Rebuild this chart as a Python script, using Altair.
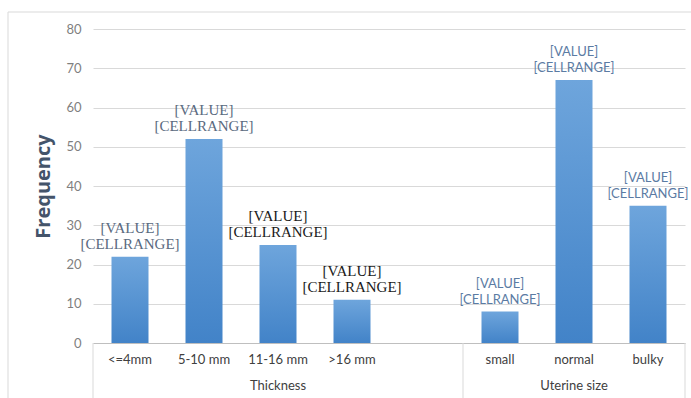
import altair as alt
import pandas as pd

# ---- data ----
categories = ["<=4mm", "5-10 mm", "11-16 mm", ">16 mm", " ", "small", "normal", "bulky"]
bar_cats = ["<=4mm", "5-10 mm", "11-16 mm", ">16 mm", "small", "normal", "bulky"]
values = [22, 52, 25, 11, 8, 67, 35]
label_style = ["serif_gray", "serif_gray", "serif_black", "serif_black", "sans", "sans", "sans"]
label_lines = ["[VALUE]", "[CELLRANGE]"]
groups = ["Thickness", "Uterine size"]
group_center_cats = ["11-16 mm", "normal"]
y_ticks = [0, 10, 20, 30, 40, 50, 60, 70, 80]

df = pd.DataFrame({"cat": bar_cats, "value": values, "style": label_style})
df["label"] = [label_lines] * len(df)
gdf = pd.DataFrame({"cat": group_center_cats, "group": groups})

W, H = 592, 314

xscale = alt.Scale(domain=categories, paddingInner=0.5, paddingOuter=0.25)
x_enc = alt.X("cat:N", sort=categories, scale=xscale,
              axis=alt.Axis(title=None, labelAngle=0, ticks=False, domain=True,
                            domainColor="#bfbfbf", labelFont="Lato", labelFontSize=13,
                            labelColor="#404040", labelPadding=10, grid=False))
y_enc = alt.Y("value:Q", scale=alt.Scale(domain=[0, 80]),
              axis=alt.Axis(title="Frequency", values=y_ticks, tickCount=9, labelOverlap=False,
                            ticks=False, domain=False,
                            labelFont="Lato", labelFontSize=13, labelColor="#7f7f7f",
                            labelPadding=12, gridColor="#d9d9d9", titleFont="Open Sans",
                            titleFontSize=20, titleFontWeight="bold", titleColor="#44546a",
                            titlePadding=12))

grad = alt.LinearGradient(
    gradient="linear",
    stops=[alt.GradientStop(color="#6ea5dc", offset=0),
           alt.GradientStop(color="#4283c8", offset=1)],
    x1=0, x2=0, y1=0, y2=1)

base = alt.Chart(df)
bars = base.mark_bar(color=grad).encode(x=x_enc, y=y_enc)

def lbl(style, font, color, size):
    return base.transform_filter(alt.datum.style == style).mark_text(
        align="center", baseline="bottom", dy=-21, lineHeight=16,
        font=font, fontSize=size, color=color
    ).encode(x=alt.X("cat:N", sort=categories, scale=xscale), y="value:Q", text="label")

lbl1 = lbl("serif_gray", "Liberation Serif", "#5a6a80", 15)
lbl2 = lbl("serif_black", "Liberation Serif", "#1a1a1a", 15)
lbl3 = lbl("sans", "Lato", "#5b7ba3", 13)

group_text = alt.Chart(gdf).mark_text(
    font="Lato", fontSize=13, color="#404040", baseline="middle"
).encode(x=alt.X("cat:N", sort=categories, scale=xscale), y=alt.value(H + 43), text="group:N")

one = alt.Data(values=[{"a": 1}])
def vrule(xp):
    return alt.Chart(one).mark_rule(color="#d9d9d9", strokeWidth=1).encode(
        x=alt.value(xp), y=alt.value(H), y2=alt.value(H + 55))

rules = vrule(0) + vrule(370) + vrule(W)

border = alt.Chart(one).mark_rect(fill=None, stroke="#d9d9d9", strokeWidth=1).encode(
    x=alt.value(-85), x2=alt.value(W + 30), y=alt.value(-17), y2=alt.value(H + 80))

chart = alt.layer(border, bars, lbl1, lbl2, lbl3, group_text, rules).properties(
    width=W, height=H,
    autosize=alt.AutoSizeParams(type="none"),
    padding={"left": 93, "top": 29, "right": 6, "bottom": 55},
    background="white",
).configure_view(stroke=None)

chart.save("out.html", embed_options={"renderer": "svg", "actions": False})
